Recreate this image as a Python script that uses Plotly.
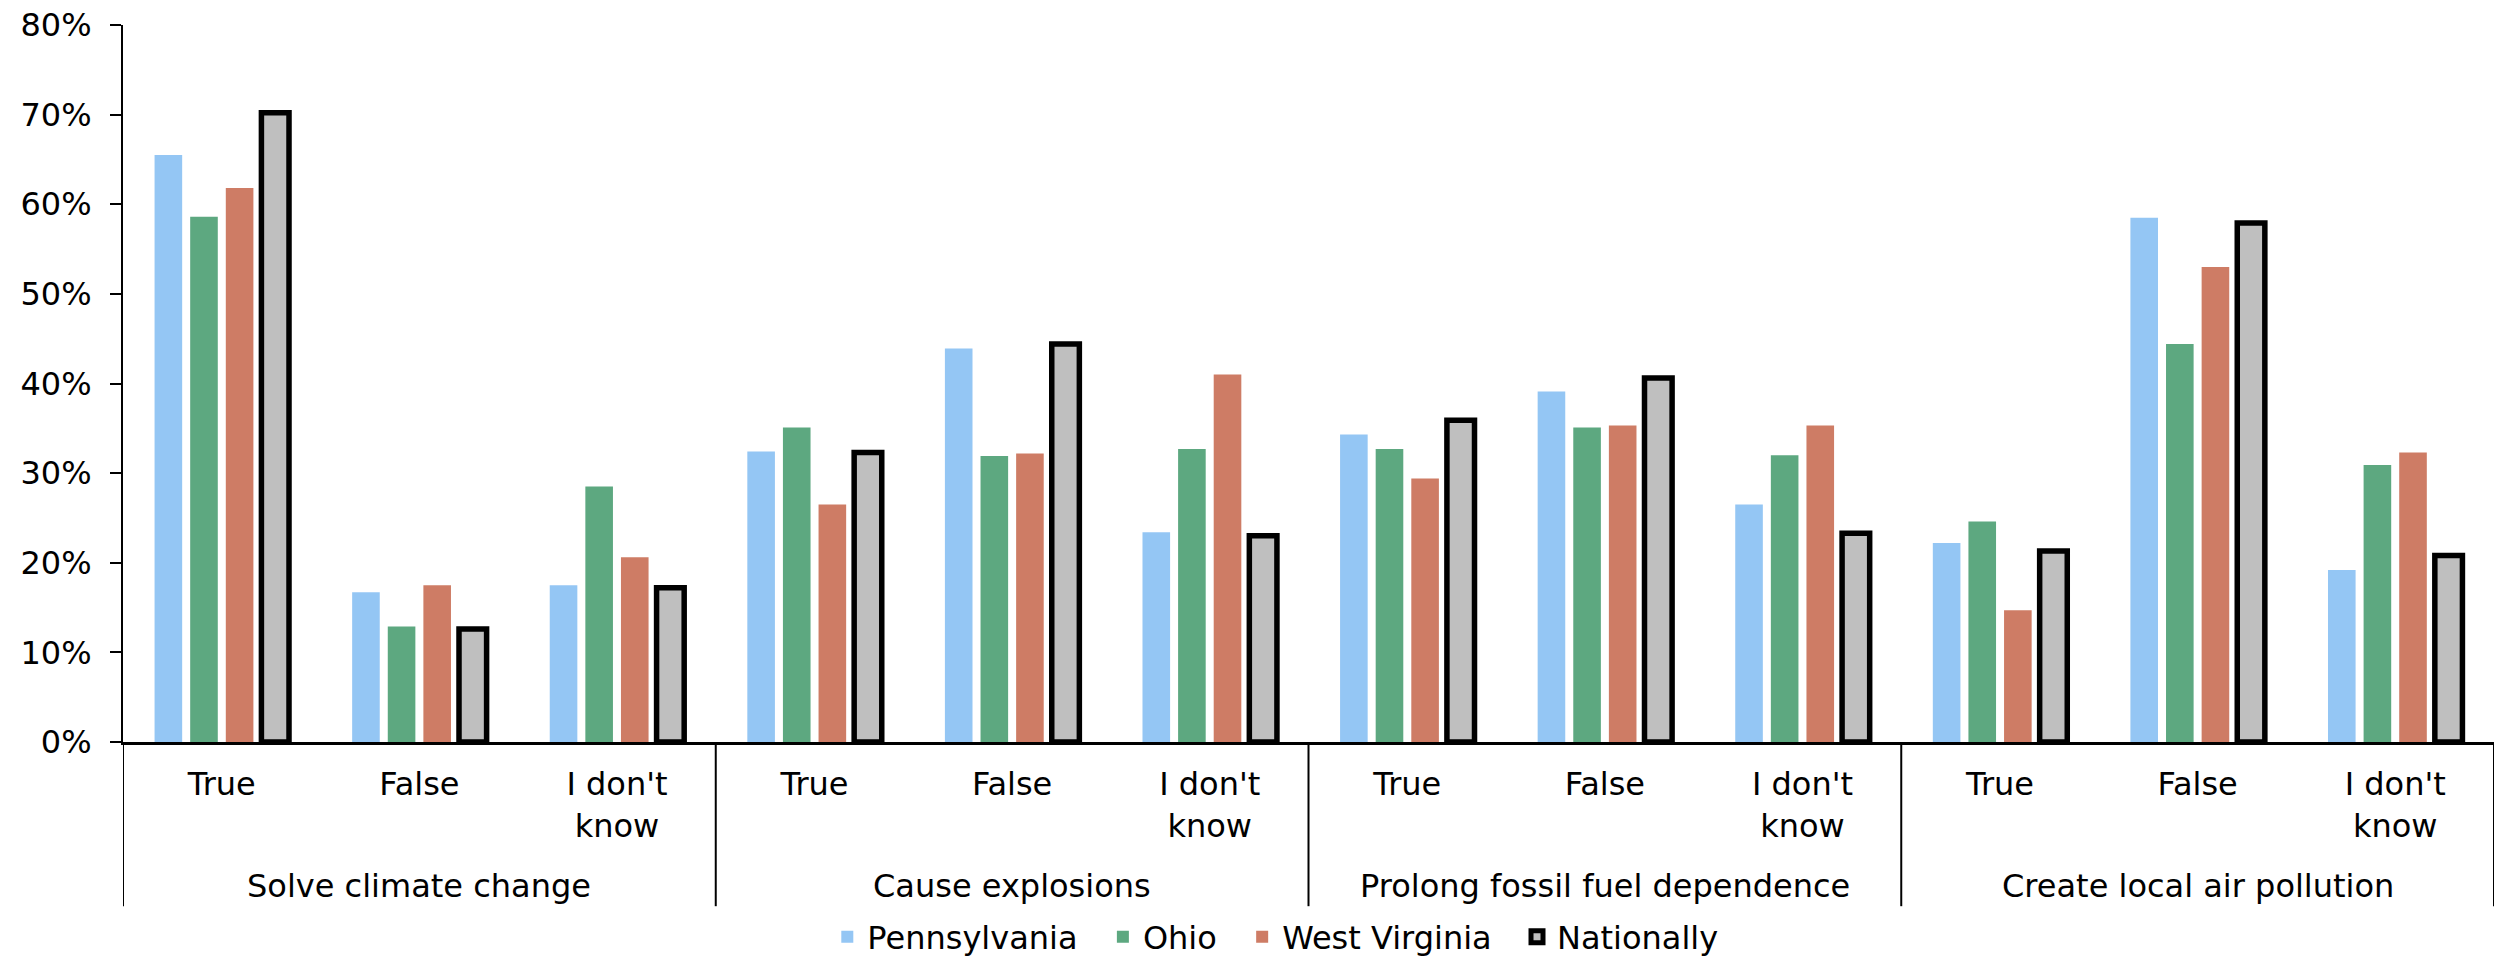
import plotly.graph_objects as go

groups = ["Solve climate change", "Cause explosions", "Prolong fossil fuel dependence", "Create local air pollution"]
answers = ["True", "False", "I don't<br>know"]

pennsylvania = [65.5, 16.7, 17.5, 32.4, 43.9, 23.4, 34.3, 39.1, 26.5, 22.2, 58.5, 19.2]
ohio = [58.6, 12.9, 28.5, 35.1, 31.9, 32.7, 32.7, 35.1, 32.0, 24.6, 44.4, 30.9]
west_virginia = [61.8, 17.5, 20.6, 26.5, 32.2, 41.0, 29.4, 35.3, 35.3, 14.7, 53.0, 32.3]
nationally = [70.2, 12.6, 17.2, 32.3, 44.4, 23.0, 35.9, 40.6, 23.3, 21.3, 57.9, 20.8]

series_names = ["Pennsylvania", "Ohio", "West Virginia", "Nationally"]
series_values = [pennsylvania, ohio, west_virginia, nationally]
colors = ["#94C6F4", "#5DA880", "#CE7C65", "#BFBFBF"]

inner_labels = [a for _ in groups for a in answers]
positions = list(range(len(inner_labels)))
n_ans = len(answers)

FONT = "DejaVu Sans"
FS = 32
NB = "\u00a0"

fig = go.Figure()
for name, vals, col in zip(series_names, series_values, colors):
    is_nat = name == "Nationally"
    fig.add_trace(go.Bar(
        name=name + (NB * 2 if not is_nat else ""),
        x=positions,
        y=[v / 100 for v in vals],
        marker=dict(color=col,
                    line=dict(color="black" if is_nat else "white", width=5.5 if is_nat else 0)),
    ))

# group labels and dividers
for gi, g in enumerate(groups):
    center = (gi * n_ans + gi * n_ans + n_ans - 1) / 2
    fig.add_annotation(x=center, xref="x", y=-0.201, yref="paper",
                       text=g, showarrow=False, yanchor="middle", xanchor="center",
                       font=dict(family=FONT, size=FS, color="black"))
for k in range(len(groups) + 1):
    xd = k * n_ans - 0.5
    fig.add_shape(type="line", xref="x", yref="paper", x0=xd, x1=xd, y0=0, y1=-0.229,
                  line=dict(color="black", width=2))

fig.update_layout(
    width=2503, height=963,
    margin=dict(l=123, r=9, t=25, b=221, autoexpand=False),
    paper_bgcolor="white", plot_bgcolor="white",
    barmode="group", bargap=0.279, bargroupgap=0.225,
    font=dict(family=FONT, size=FS, color="black"),
    showlegend=True,
    legend=dict(orientation="h", x=0.486, xanchor="center", y=-0.272, yanchor="middle",
                font=dict(family=FONT, size=FS, color="black"),
                traceorder="normal", tracegroupgap=0, borderwidth=0),
)
fig.update_yaxes(
    range=[0, 0.8], dtick=0.1, tickformat=".0%",
    showline=True, linecolor="black", linewidth=2,
    ticks="outside", ticklen=11, tickwidth=2, tickcolor="black",
    showgrid=False, zeroline=False,
    tickfont=dict(family=FONT, size=FS, color="black"),
    ticklabelstandoff=12,
)
fig.update_xaxes(
    range=[-0.5, len(positions) - 0.5],
    tickmode="array", tickvals=positions, ticktext=inner_labels,
    showline=True, linecolor="black", linewidth=3,
    ticks="", showgrid=False, zeroline=False,
    tickfont=dict(family=FONT, size=FS, color="black"),
    ticklabelstandoff=12,
)

fig.write_html("out.html")
